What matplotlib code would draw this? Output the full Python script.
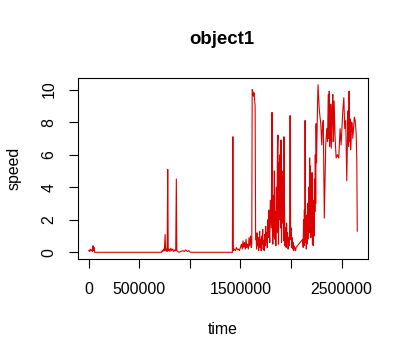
import numpy as np
import matplotlib
matplotlib.use("Agg")
from matplotlib import pyplot as plt

plt.rcParams['font.family'] = ['Liberation Sans', 'DejaVu Sans']

title = "object1"
xlab = "time"
ylab = "speed"
xticks = [0, 500000, 1000000, 1500000, 2000000, 2500000]
xticklabels = ["0", "500000", "", "1500000", "", "2500000"]
yticks = [0, 2, 4, 6, 8, 10]

# readings from the picture, (time, speed)
time = [0, 8000, 15000, 22000, 30000, 36000, 42000, 47000, 52000, 58000,
        720000,
        725000, 732000, 740000, 748000, 755000, 760000, 768000, 775000, 781000, 786000,
        795000, 803000, 812000, 820000, 830000, 840000, 850000, 860000, 866000, 871000,
        880000, 890000, 930000, 945000, 960000, 975000, 990000, 1005000,
        1420000,
        1425000, 1430000, 1440000, 1450000, 1460000, 1470000, 1480000, 1490000, 1500000,
        1510000, 1518000, 1525000, 1532000, 1540000, 1548000, 1555000, 1562000, 1570000,
        1578000, 1585000, 1592000, 1600000, 1607000, 1612000,
        1616000, 1622000, 1628000, 1634000, 1640000, 1645000, 1650000,
        1655000, 1660000, 1665000, 1670000, 1675000, 1680000, 1685000, 1690000, 1695000,
        1700000, 1705000, 1710000, 1715000, 1720000, 1725000, 1730000, 1735000, 1740000,
        1745000, 1750000, 1755000, 1760000, 1765000, 1770000, 1775000, 1780000, 1785000,
        1790000, 1795000, 1805000,
        1812000, 1816000, 1820000, 1825000, 1830000, 1835000, 1840000, 1845000, 1850000,
        1855000, 1860000, 1866000, 1871000, 1876000, 1881000, 1886000, 1891000, 1896000,
        1901000, 1906000, 1911000, 1916000, 1921000, 1926000, 1931000, 1936000, 1941000,
        1946000, 1951000, 1956000, 1961000, 1966000, 1971000, 1976000, 1981000, 1986000,
        1991000, 1996000, 2001000, 2006000, 2011000, 2016000, 2021000, 2026000, 2031000,
        2045000, 2050000, 2115000,
        2120000, 2124000, 2128000, 2132000, 2136000, 2139000, 2143000, 2147000, 2151000,
        2155000, 2159000, 2163000, 2167000, 2171000, 2175000, 2179000, 2184000, 2188000,
        2192000, 2196000, 2200000, 2204000, 2208000, 2212000, 2216000, 2220000, 2224000,
        2228000, 2232000, 2236000, 2240000, 2244000, 2248000, 2252000, 2256000, 2262000,
        2267000,
        2280000, 2294000, 2304000, 2311000, 2319000, 2329000, 2343000, 2353000, 2361000,
        2368000, 2373000, 2378000, 2382000, 2386000, 2390000, 2393000, 2398000, 2403000,
        2408000, 2413000, 2417000, 2421000, 2426000, 2436000, 2446000, 2458000, 2472000,
        2485000, 2495000, 2512000, 2522000, 2531000, 2541000, 2546000, 2551000, 2558000,
        2564000, 2569000, 2574000, 2579000, 2584000, 2589000, 2594000, 2599000, 2604000,
        2611000, 2617000, 2626000, 2634000, 2644000, 2650000, 2655000]
speed = [0.1, 0.05, 0.2, 0.1, 0.15, 0.05, 0.4, 0.1, 0.3, 0.0,
         0.0,
         0.1, 0.05, 0.2, 0.1, 1.1, 0.1, 0.2, 0.05, 5.1, 0.1,
         0.2, 0.05, 0.25, 0.1, 0.2, 0.05, 0.15, 0.1, 4.5, 0.1,
         0.05, 0.0, 0.1, 0.05, 0.15, 0.05, 0.1, 0.0,
         0.0,
         7.1, 0.1, 0.2, 0.1, 0.3, 0.15, 0.2, 0.1, 0.3,
         0.5, 0.2, 0.7, 0.3, 0.6, 0.2, 0.8, 0.3, 0.5,
         0.2, 0.9, 0.4, 1.0, 0.3, 0.6,
         10.0, 9.9, 9.6, 9.8, 9.4, 9.0, 0.8,
         0.8, 0.2, 1.2, 0.4, 0.9, 0.1, 0.6, 1.3, 0.3,
         0.8, 0.1, 1.0, 0.5, 1.4, 0.2, 0.7, 0.1, 1.1,
         0.4, 1.6, 0.6, 1.2, 0.3, 2.0, 0.9, 2.6, 1.3,
         0.6, 3.2, 1.5,
         8.6, 2.0, 0.5, 3.5, 1.0, 5.0, 0.8, 2.5, 0.4,
         4.0, 1.2, 6.5, 7.2, 0.5, 5.5, 2.0, 6.0, 1.5,
         6.9, 0.6, 4.5, 1.8, 5.0, 0.7, 7.1, 2.5, 0.4,
         1.5, 0.3, 1.8, 0.6, 1.2, 0.2, 0.9, 0.4, 1.1,
         8.4, 0.8, 1.5, 0.3, 0.9, 0.2, 0.6, 0.1, 0.4,
         0.1, 0.3, 0.8,
         0.3, 2.0, 0.4, 2.6, 0.6, 8.1, 1.0, 2.3, 0.2,
         1.8, 0.5, 3.0, 0.8, 2.2, 4.0, 1.2, 5.8, 2.0,
         5.3, 0.9, 3.5, 1.5, 4.9, 0.5, 3.2, 0.4, 2.8,
         1.0, 4.5, 2.5, 6.0, 3.0, 7.9, 5.5, 7.0, 9.0,
         10.3,
         8.7, 7.9, 6.6, 7.8, 8.1, 2.1, 6.6, 7.6, 6.8,
         9.7, 7.0, 9.9, 6.5, 8.1, 6.9, 9.1, 6.4, 7.6,
         8.8, 9.7, 6.8, 7.2, 9.3, 7.0, 5.8, 6.0, 5.8,
         7.6, 6.6, 8.7, 9.5, 7.6, 8.1, 6.2, 4.4, 7.0,
         8.7, 6.5, 9.9, 6.8, 8.2, 6.3, 6.8, 8.0, 7.9,
         7.0, 7.5, 8.3, 8.1, 7.3, 5.7, 1.3]

fig = plt.figure(figsize=[4.09, 3.57], dpi=100)
ax = fig.add_axes([0.1907, 0.2745, 0.7091, 0.507])
ax.plot(time, speed, color="#dd0000", lw=0.8)
ax.margins(x=0.04, y=0.04)

ax.set_xticks(xticks)
ax.set_xticklabels(xticklabels)
ax.set_yticks(yticks)
for lab in ax.get_yticklabels():
    lab.set_rotation(90)
    lab.set_va("center")
ax.tick_params(length=6.5, width=0.8, labelsize=11.4, pad=9)
ax.tick_params(axis="x", pad=10)
for s in ax.spines.values():
    s.set_linewidth(0.8)

ax.set_xlabel(xlab, fontsize=11.4, labelpad=18)
ax.set_ylabel(ylab, fontsize=11.4, labelpad=14)
fig.text(0.543, 0.888, title, fontsize=13.4, fontweight="bold", ha="center", va="center")

plt.savefig("out.png", dpi=100)
